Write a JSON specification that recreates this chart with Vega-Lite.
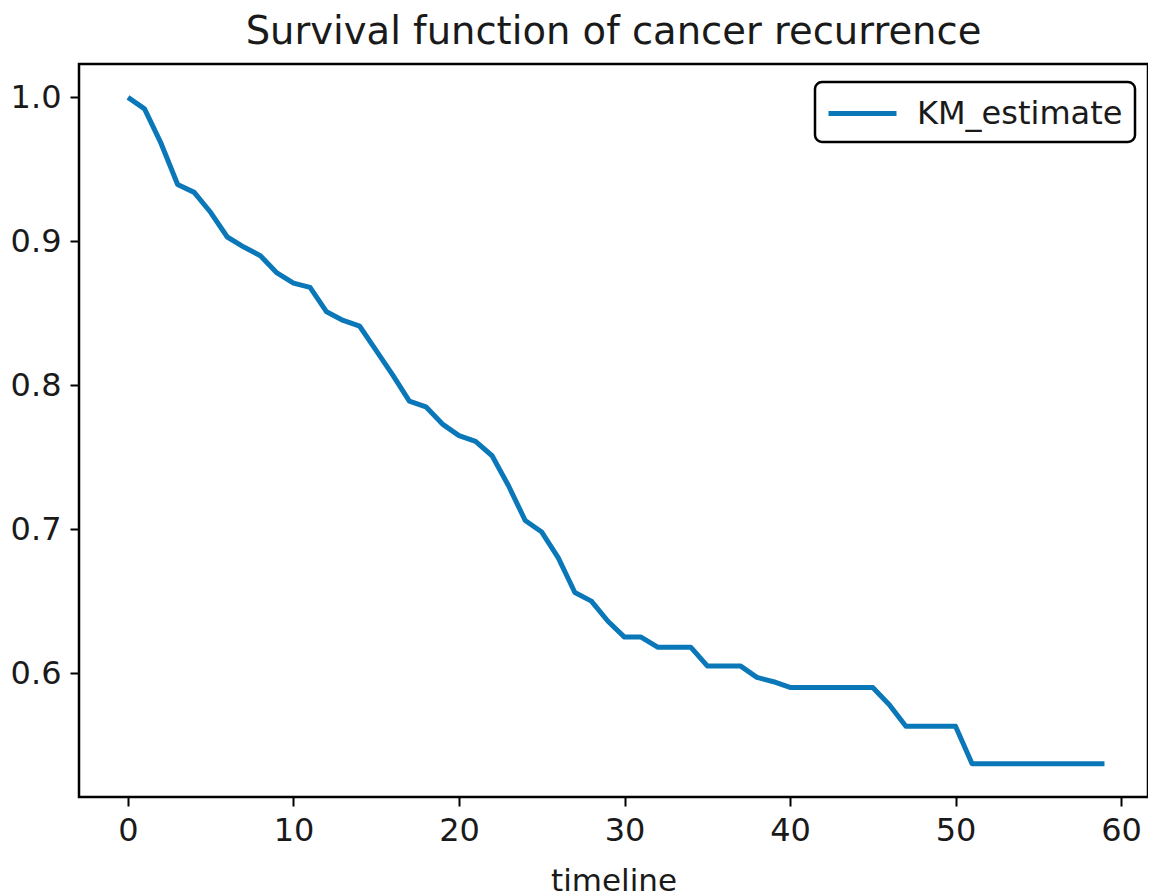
{
  "$schema": "https://vega.github.io/schema/vega-lite/v6.json",
  "width": 1069,
  "height": 733,
  "padding": {"left": 10, "top": 12, "right": 0, "bottom": 0},
  "background": "white",
  "title": {"text": "Survival function of cancer recurrence", "fontSize": 38.5, "font": "DejaVu Sans", "fontWeight": "normal", "color": "#1a1a1a", "offset": 12, "anchor": "middle"},
  "config": {
    "view": {"stroke": "black", "strokeWidth": 2.5},
    "font": "DejaVu Sans",
    "axis": {"grid": false, "domain": false, "tickColor": "black", "tickWidth": 2, "tickSize": 9, "labelFont": "DejaVu Sans", "labelFontSize": 32, "labelColor": "#1a1a1a", "labelPadding": 9, "titleFont": "DejaVu Sans", "titleFontSize": 31, "titleFontWeight": "normal", "titleColor": "#1a1a1a"}
  },
  "data": {"values": [
    {"t": 0, "S": 1.0}, {"t": 1, "S": 0.992}, {"t": 2, "S": 0.968}, {"t": 3, "S": 0.9395},
    {"t": 4, "S": 0.934}, {"t": 5, "S": 0.920}, {"t": 6, "S": 0.903}, {"t": 7, "S": 0.896},
    {"t": 8, "S": 0.890}, {"t": 9, "S": 0.878}, {"t": 10, "S": 0.871}, {"t": 11, "S": 0.868},
    {"t": 12, "S": 0.851}, {"t": 13, "S": 0.845}, {"t": 14, "S": 0.841}, {"t": 15, "S": 0.824},
    {"t": 16, "S": 0.807}, {"t": 17, "S": 0.789}, {"t": 18, "S": 0.785}, {"t": 19, "S": 0.773},
    {"t": 20, "S": 0.765}, {"t": 21, "S": 0.761}, {"t": 22, "S": 0.751}, {"t": 23, "S": 0.730},
    {"t": 24, "S": 0.706}, {"t": 25, "S": 0.698}, {"t": 26, "S": 0.680}, {"t": 27, "S": 0.656},
    {"t": 28, "S": 0.650}, {"t": 29, "S": 0.636}, {"t": 30, "S": 0.625}, {"t": 31, "S": 0.625},
    {"t": 32, "S": 0.618}, {"t": 33, "S": 0.618}, {"t": 34, "S": 0.618}, {"t": 35, "S": 0.605},
    {"t": 36, "S": 0.605}, {"t": 37, "S": 0.605}, {"t": 38, "S": 0.597}, {"t": 39, "S": 0.594},
    {"t": 40, "S": 0.590}, {"t": 41, "S": 0.590}, {"t": 42, "S": 0.590}, {"t": 43, "S": 0.590},
    {"t": 44, "S": 0.590}, {"t": 45, "S": 0.590}, {"t": 46, "S": 0.578}, {"t": 47, "S": 0.563},
    {"t": 48, "S": 0.563}, {"t": 49, "S": 0.563}, {"t": 50, "S": 0.563}, {"t": 51, "S": 0.537},
    {"t": 52, "S": 0.537}, {"t": 53, "S": 0.537}, {"t": 54, "S": 0.537}, {"t": 55, "S": 0.537},
    {"t": 56, "S": 0.537}, {"t": 57, "S": 0.537}, {"t": 58, "S": 0.537}, {"t": 59, "S": 0.537}
  ]},
  "mark": {"type": "line", "strokeWidth": 5, "strokeJoin": "round", "strokeCap": "butt"},
  "encoding": {
    "x": {"field": "t", "type": "quantitative", "title": "timeline", "scale": {"domain": [-2.96, 61.63], "nice": false, "zero": false}, "axis": {"values": [0, 10, 20, 30, 40, 50, 60], "titlePadding": 20}},
    "y": {"field": "S", "type": "quantitative", "title": null, "scale": {"domain": [0.5139, 1.0232], "nice": false, "zero": false}, "axis": {"values": [0.6, 0.7, 0.8, 0.9, 1.0], "format": ".1f"}},
    "color": {"datum": "KM_estimate", "type": "nominal", "scale": {"range": ["#0a78b8"]},
      "legend": {"title": null, "orient": "none", "legendX": 736, "legendY": 18, "strokeColor": "black", "fillColor": "white", "cornerRadius": 7, "padding": 12, "symbolType": "M-2,0H2", "symbolSize": 1156, "symbolStrokeWidth": 5, "symbolFillColor": "transparent", "labelFontSize": 32, "labelFont": "DejaVu Sans", "labelColor": "#1a1a1a", "labelOffset": 35, "labelLimit": 0, "symbolOffset": 16,
        "encode": {"legend": {"update": {"strokeWidth": {"value": 2.5}}}}}}
  }
}
